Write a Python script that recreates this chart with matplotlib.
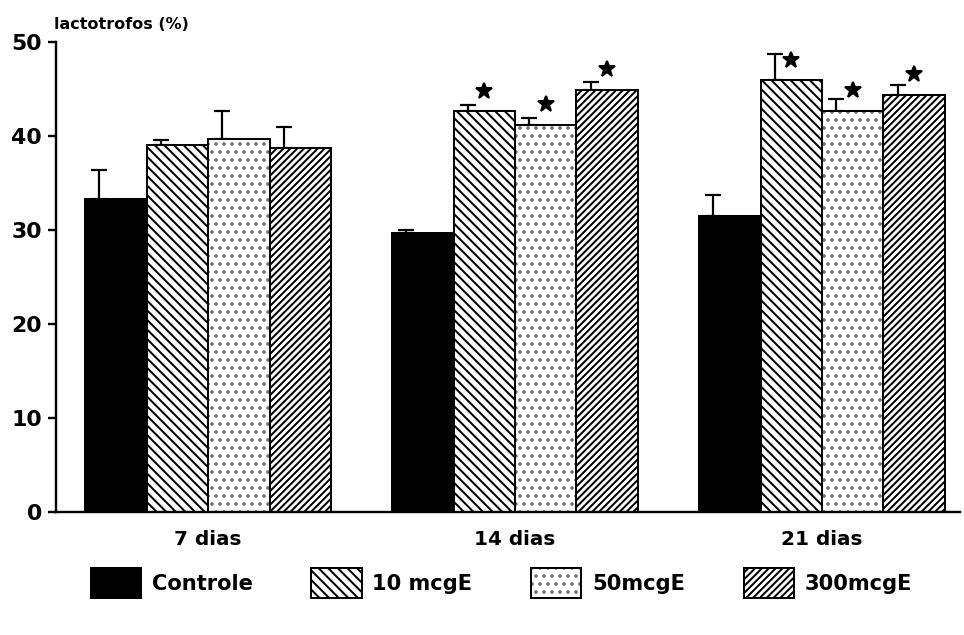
import matplotlib
matplotlib.use("Agg")
import matplotlib.pyplot as plt
import matplotlib.patches as mpatches
import numpy as np

# dados (lactotrofos %)
grupos = ["7 dias", "14 dias", "21 dias"]
series = ["Controle", "10 mcgE", "50mcgE", "300mcgE"]
controle = [33.3, 29.7, 31.5]
controle_err = [3.1, 0.3, 2.2]
mcg10 = [39.0, 42.6, 45.9]
mcg10_err = [0.6, 0.7, 2.8]
mcg50 = [39.7, 41.2, 42.7]
mcg50_err = [2.9, 0.7, 1.2]
mcg300 = [38.7, 44.9, 44.4]
mcg300_err = [2.2, 0.8, 1.0]
signif = [[False, False, False], [False, True, True], [False, True, True], [False, True, True]]
yticks = [0, 10, 20, 30, 40, 50]

plt.rcParams['font.family'] = 'DejaVu Sans'
plt.rcParams['font.weight'] = 'bold'
plt.rcParams['hatch.linewidth'] = 1.0

DPI = 144
fig = plt.figure(figsize=(964 / DPI, 635 / DPI), dpi=DPI)
ax = fig.add_axes([0.058, 0.194, 0.938, 0.740])

valores = [controle, mcg10, mcg50, mcg300]
erros = [controle_err, mcg10_err, mcg50_err, mcg300_err]
# (cor de fundo, hachura, cor da hachura)
estilos = [('black', None, 'black'),
           ('white', '\\' * 5, 'black'),
           ('white', '...', '#6e6e6e'),
           ('white', '/' * 7, 'black')]

centros = np.arange(len(grupos)) * 5.0
largura = 1.0
handles = []
for i, (v, e, (fc, hatch, hc)) in enumerate(zip(valores, erros, estilos)):
    x = centros + (i - 1.5) * largura
    # preenchimento + hachura, depois contorno preto por cima
    ax.bar(x, v, width=largura, facecolor=fc, edgecolor=hc, linewidth=0,
           hatch=hatch, zorder=2)
    ax.bar(x, v, width=largura, fill=False, edgecolor='black', linewidth=1.0, zorder=2.5)
    # barras de erro deslocadas para a esquerda, só para cima
    ax.errorbar(x - 0.27 * largura, v, yerr=[np.zeros(len(e)), e], fmt='none',
                ecolor='black', elinewidth=1.1, capsize=4, capthick=1.1, zorder=1)
    for xi, vi, s in zip(x, v, signif[i]):
        if s:
            ax.plot(xi, vi + 2.2, marker='*', color='black', markersize=8.5, zorder=3)
    h1 = mpatches.Patch(facecolor=fc, edgecolor=hc, hatch=hatch, linewidth=0)
    h2 = mpatches.Patch(fill=False, edgecolor='black', linewidth=1.0)
    handles.append((h1, h2))

ax.set_xlim(-2.48, 12.25)
ax.set_ylim(0, 50)
ax.set_yticks(yticks)
ax.set_xticks(centros)
ax.set_xticklabels(grupos, fontsize=10, fontweight='bold')
ax.tick_params(axis='x', length=0, pad=9)
ax.tick_params(axis='y', length=4, width=1.2, pad=3, labelsize=11, direction='out')
ax.spines['top'].set_visible(False)
ax.spines['right'].set_visible(False)
ax.spines['left'].set_linewidth(1.2)
ax.spines['bottom'].set_linewidth(1.2)

fig.text(0.056, 0.955, "lactotrofos (%)", fontsize=8, fontweight='bold')

fig.legend(handles=handles, labels=series, loc='center', bbox_to_anchor=(0.52, 0.082),
           ncol=4, frameon=False, fontsize=10.5, handlelength=2.4, handleheight=1.8,
           handletextpad=0.5, columnspacing=2.8)

fig.savefig("out.png", dpi=DPI)
